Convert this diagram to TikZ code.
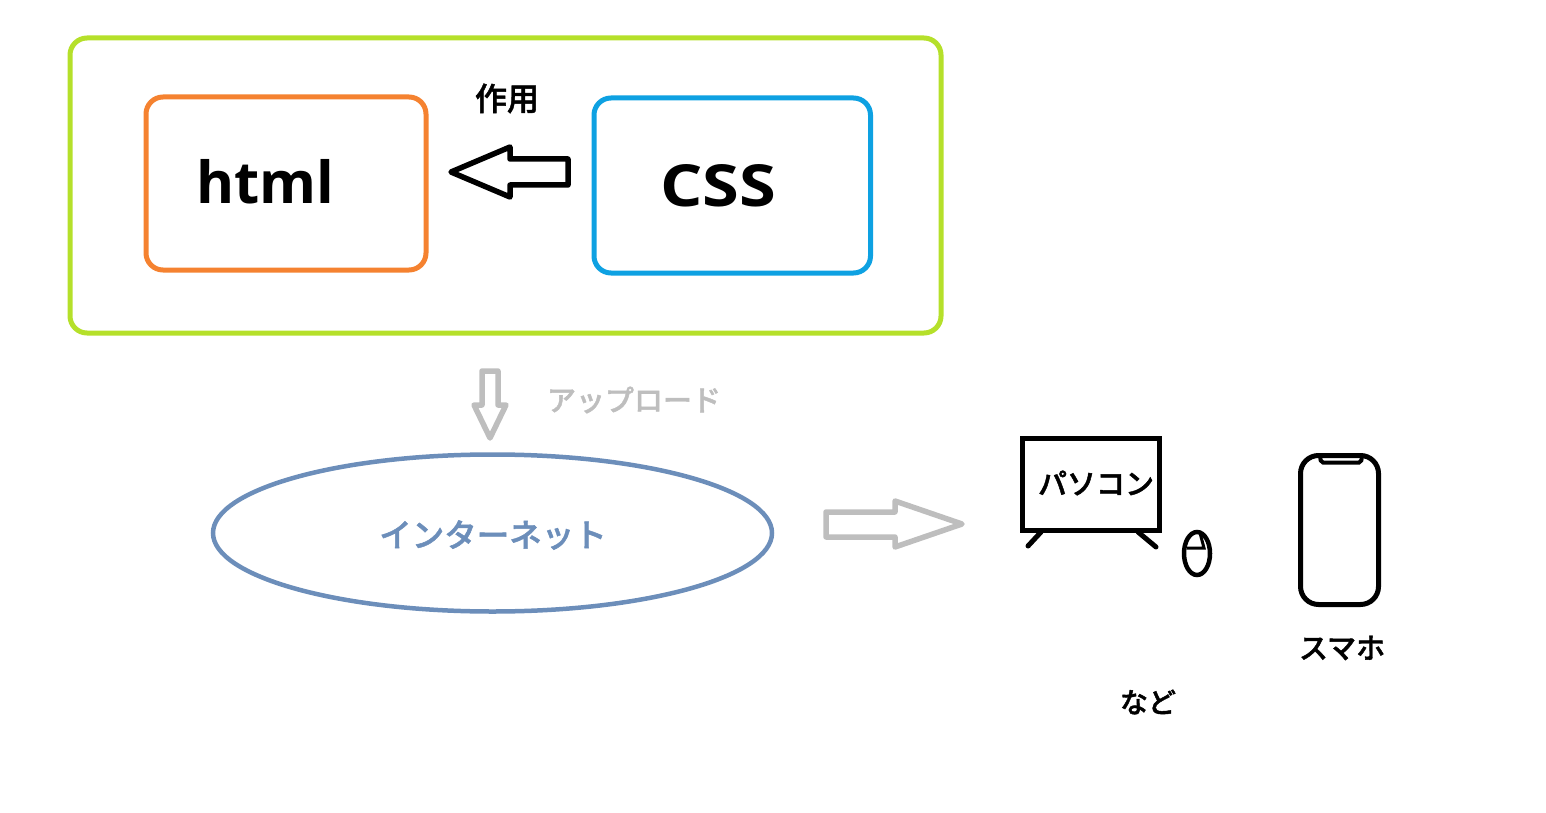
\documentclass[tikz,border=0pt]{standalone}
\usepackage{fontspec}
\setmainfont{Open Sans}
\newfontfamily\cjk[BoldFont={Noto Sans CJK JP Medium},BoldFeatures={FakeBold=1.5}]{Noto Sans CJK JP}
\definecolor{lime}{HTML}{B5E02A}
\definecolor{orangeb}{HTML}{F58230}
\definecolor{blueb}{HTML}{0EA1E2}
\definecolor{steel}{HTML}{6C8EBA}
\definecolor{greyb}{HTML}{BEBEBE}
\newcommand{\jpsize}[1]{\cjk\fontsize{#1}{#1}\selectfont\bfseries}
\tikzset{
  framebox/.style={draw, line width=5pt, rounded corners=17pt},
  blocktip/.style={draw=#1, line width=5.5pt, line join=round, fill=white},
  latinlabel/.style={font=\fontsize{58}{59}\selectfont\bfseries, inner sep=0pt, anchor=base west},
  jplabel/.style={font=\jpsize{29}, inner sep=0pt},
  device/.style={draw, line width=5pt, line cap=round}
}
\begin{document}
\begin{tikzpicture}[x=1pt,y=-1pt]
\useasboundingbox (0,0) rectangle (1546,813);
% frames
\draw[framebox,lime] (70,38) rectangle (941,333);
\draw[framebox,orangeb] (146,97) rectangle (426,270);
\draw[framebox,blueb] (594,98) rectangle (870.5,273);
\node[latinlabel] (html) at (196,204) {html};
\node[latinlabel] (css) at (660,206) {\scalebox{1.15}[1]{CSS}};
\node[jplabel,font=\jpsize{32}] (sayou) at (507,98.5) {作用};
% action arrow
\draw[blocktip=black] (568,159) -- (510,159) -- (510,147) -- (451,172) -- (510,197) -- (510,185) -- (568,185) -- cycle;
% upload arrow
\draw[blocktip=greyb] (482,371) -- (498,371) -- (498,405) -- (506,405) -- (490,438) -- (474,405) -- (482,405) -- cycle;
\node[jplabel,text=greyb] (upload) at (634,400) {アップロード};
% internet
\draw[line width=4.5pt,steel] (492.5,533) ellipse [x radius=279.5, y radius=78.5];
\node[jplabel,text=steel,font=\jpsize{32.5}] (net) at (493,535) {インターネット};
% output arrow
\draw[blocktip=greyb] (826,512) -- (895,512) -- (895,501) -- (962,524) -- (895,547) -- (895,537) -- (826,537) -- cycle;
% monitor
\draw[device,line cap=butt] (1022,438) rectangle (1159.5,530);
\draw[device] (1041,532) -- (1028,546);
\draw[device] (1138,532) -- (1156,547);
\node[jplabel] (pc) at (1096,483) {パソコン};
% mouse
\draw[device,line width=4.5pt] (1197,553.5) ellipse [x radius=13, y radius=21.5];
\draw[line width=3pt] (1187,548) -- (1204,548) -- (1200,533);
% phone
\draw[device] (1300.5,455.5) [rounded corners=18pt] rectangle (1378.5,604.5);
\draw[line width=4pt,line cap=butt,rounded corners=2pt] (1320,456) -- (1321,462.5) -- (1361,462.5) -- (1362,456);
\node[jplabel] (phone) at (1342,648) {スマホ};
\node[jplabel,font=\jpsize{28}] (nado) at (1148,702) {など};
\end{tikzpicture}
\end{document}
